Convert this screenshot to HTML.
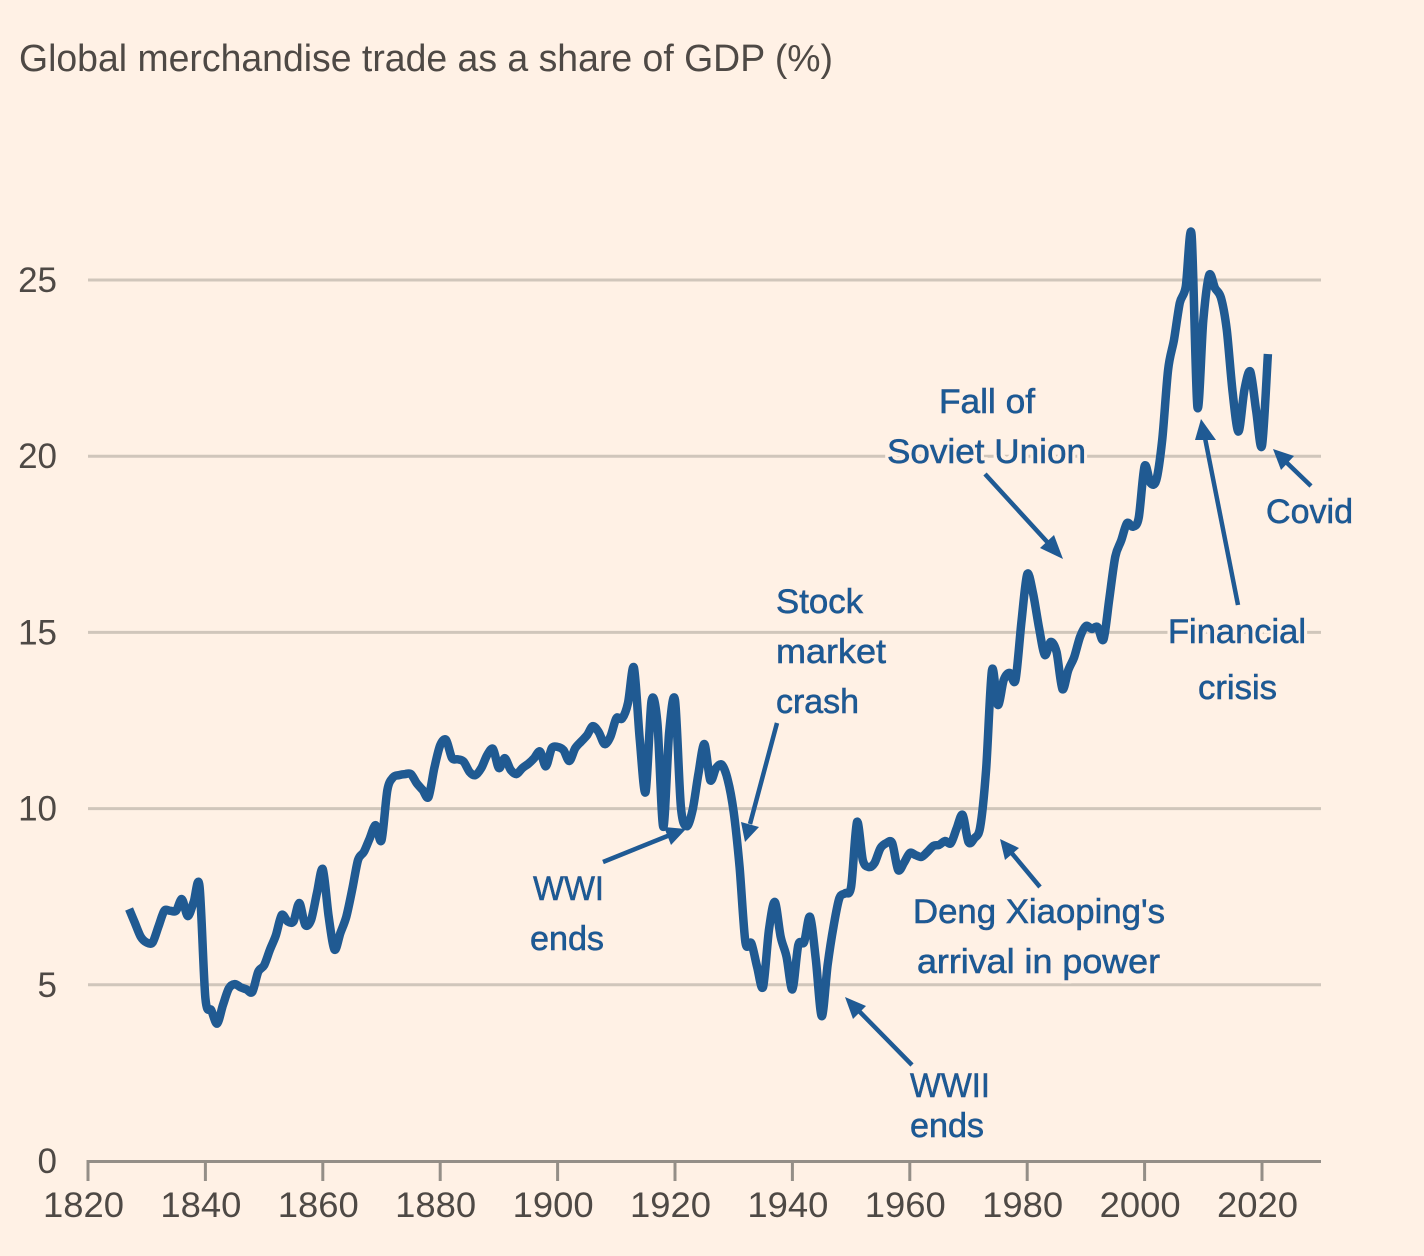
<!DOCTYPE html>
<html lang="en">
<head>
<meta charset="utf-8">
<title>Global merchandise trade as a share of GDP</title>
<style>
  html, body { margin: 0; padding: 0; background: #fff1e5; }
  svg { display: block; }
  text { font-family: "Liberation Sans", sans-serif; }
  .note { font-size: 34px; fill: #1f5a94; stroke: #1f5a94; stroke-width: 0.7px; filter: url(#halo); }
  .tick-label { font-size: 35px; fill: #4e4945; }
  .arrow-line { stroke: #1f5a94; stroke-width: 4.5; fill: none; }
  .arrow-head { fill: #1f5a94; }
</style>
</head>
<body>
<svg id="chart" xmlns="http://www.w3.org/2000/svg" width="1424" height="1256" viewBox="0 0 1424 1256">
  <defs>
    <filter id="halo" x="-10%" y="-30%" width="120%" height="160%">
      <feMorphology in="SourceAlpha" operator="dilate" radius="3" result="grown"/>
      <feFlood flood-color="#fff1e5" result="paper"/>
      <feComposite in="paper" in2="grown" operator="in" result="ring"/>
      <feMerge>
        <feMergeNode in="ring"/>
        <feMergeNode in="SourceGraphic"/>
      </feMerge>
    </filter>
  </defs>
  <rect width="1424" height="1256" fill="#fff1e5"/>
  <text x="19" y="71" font-size="38" fill="#4e4945" textLength="814" lengthAdjust="spacingAndGlyphs">Global merchandise trade as a share of GDP (%)</text>
  <g id="grid"></g>
  <g id="xaxis"></g>
  <g id="yaxis"></g>
  <path id="series" fill="none" stroke="#205a92" stroke-width="8.5" stroke-linejoin="round" stroke-linecap="butt"></path>

  <g>
    <g>
      <text class="note" x="939" y="413" textLength="96" lengthAdjust="spacingAndGlyphs">Fall of</text>
      <text class="note" x="887" y="463" textLength="199" lengthAdjust="spacingAndGlyphs">Soviet Union</text>
      <line class="arrow-line" x1="985" y1="474" x2="1050" y2="545"/>
      <polygon class="arrow-head" points="1063,559 1040,548 1054,535"/>
    </g>
    <g>
      <text class="note" x="776" y="613" textLength="87" lengthAdjust="spacingAndGlyphs">Stock</text>
      <text class="note" x="776" y="663" textLength="110" lengthAdjust="spacingAndGlyphs">market</text>
      <text class="note" x="776" y="713" textLength="83" lengthAdjust="spacingAndGlyphs">crash</text>
      <line class="arrow-line" x1="777" y1="723" x2="750" y2="824"/>
      <polygon class="arrow-head" points="745,842 741,822 759,827"/>
    </g>
    <g>
      <text class="note" x="533" y="900" textLength="71" lengthAdjust="spacingAndGlyphs">WWI</text>
      <text class="note" x="530" y="950" textLength="74" lengthAdjust="spacingAndGlyphs">ends</text>
      <line class="arrow-line" x1="603" y1="862" x2="670" y2="835"/>
      <polygon class="arrow-head" points="686,829 671,845 664,827"/>
    </g>
    <g>
      <text class="note" x="913" y="923" textLength="252" lengthAdjust="spacingAndGlyphs">Deng Xiaoping's</text>
      <text class="note" x="917" y="973" textLength="243" lengthAdjust="spacingAndGlyphs">arrival in power</text>
      <line class="arrow-line" x1="1040" y1="887" x2="1010" y2="851"/>
      <polygon class="arrow-head" points="1000,839 1019,848 1005,860"/>
    </g>
    <g>
      <text class="note" x="910" y="1097" textLength="80" lengthAdjust="spacingAndGlyphs">WWII</text>
      <text class="note" x="910" y="1137" textLength="74" lengthAdjust="spacingAndGlyphs">ends</text>
      <line class="arrow-line" x1="912" y1="1065" x2="857" y2="1009"/>
      <polygon class="arrow-head" points="845,997 866,1006 853,1019"/>
    </g>
    <g>
      <text class="note" x="1168" y="643" textLength="138" lengthAdjust="spacingAndGlyphs">Financial</text>
      <text class="note" x="1198" y="699" textLength="79" lengthAdjust="spacingAndGlyphs">crisis</text>
      <line class="arrow-line" x1="1238" y1="605" x2="1205" y2="438"/>
      <polygon class="arrow-head" points="1201,419 1216,440 1195,440"/>
    </g>
    <g>
      <text class="note" x="1266" y="523" textLength="87" lengthAdjust="spacingAndGlyphs">Covid</text>
      <line class="arrow-line" x1="1311" y1="486" x2="1285" y2="461"/>
      <polygon class="arrow-head" points="1273,449 1294,456 1281,470"/>
    </g>
  </g>
</svg>
<script>
const firstYear = 1827;
const tradeShare = [
  7.15, 6.75, 6.36, 6.2, 6.2, 6.65, 7.1, 7.1, 7.1, 7.43,
  6.95, 7.35, 7.8, 4.62, 4.28, 3.9, 4.43, 4.9, 5.02, 4.93,
  4.87, 4.8, 5.37, 5.55, 6.0, 6.4, 6.98, 6.8, 6.8, 7.32,
  6.7, 6.84, 7.6, 8.28, 6.93, 6.0, 6.47, 6.93, 7.69, 8.54,
  8.77, 9.16, 9.53, 9.1, 10.53, 10.89, 10.95, 10.98, 10.98, 10.72,
  10.53, 10.33, 11.15, 11.8, 11.95, 11.44, 11.4, 11.33, 11.04, 10.95,
  11.15, 11.52, 11.69, 11.15, 11.43, 11.1, 10.98, 11.15, 11.27, 11.43,
  11.62, 11.2, 11.71, 11.75, 11.66, 11.35, 11.71, 11.9, 12.08, 12.34,
  12.17, 11.83, 12.04, 12.56, 12.56, 13.0, 14.0, 11.95, 10.47, 13.05,
  12.43, 9.48, 12.15, 13.08, 10.05, 9.5, 9.96, 11.0, 11.83, 10.81,
  11.15, 11.24, 10.81, 9.9, 8.34, 6.21, 6.18, 5.5, 4.94, 6.55,
  7.35, 6.36, 5.8, 4.87, 6.13, 6.21, 6.93, 5.7, 4.11, 5.56,
  6.65, 7.46, 7.6, 7.78, 9.62, 8.54, 8.34, 8.46, 8.88, 9.02,
  9.02, 8.26, 8.46, 8.74, 8.68, 8.63, 8.77, 8.94, 8.97, 9.08,
  9.02, 9.45, 9.82, 9.05, 9.16, 9.48, 11.1, 13.93, 12.94, 13.65,
  13.85, 13.65, 15.26, 16.65, 16.1, 15.15, 14.36, 14.73, 14.44, 13.39,
  13.93, 14.3, 14.87, 15.18, 15.1, 15.15, 14.8, 15.97, 17.15, 17.6,
  18.1, 18.0, 18.25, 19.72, 19.24, 19.32, 20.46, 22.45, 23.3, 24.35,
  24.8, 26.28, 21.4, 23.86, 25.14, 24.77, 24.5, 23.58, 21.8, 20.7,
  21.88, 22.4, 21.3, 20.3, 22.9
];
const yTicks = [0, 5, 10, 15, 20, 25];
const xTicks = [1820, 1840, 1860, 1880, 1900, 1920, 1940, 1960, 1980, 2000, 2020];

const NS = 'http://www.w3.org/2000/svg';
const xScale = function (year) { return 88 + (year - 1820) * 5.87; };
const yScale = function (value) { return 1161 - value * 35.24; };

function make(tag, parent) {
  const el = document.createElementNS(NS, tag);
  parent.appendChild(el);
  return el;
}

const grid = document.getElementById('grid');
const xaxis = document.getElementById('xaxis');
const yaxis = document.getElementById('yaxis');

yTicks.forEach(function (v) {
  if (v !== 0) {
    const line = make('line', grid);
    
    
    line.setAttribute('x1', 88);
    line.setAttribute('x2', 1321);
    line.setAttribute('y1', yScale(v));
    line.setAttribute('y2', yScale(v));
    line.setAttribute('stroke', '#d0c6bb');
    line.setAttribute('stroke-width', 3);
  }
  const label = make('text', yaxis);
  
  
  label.setAttribute('class', 'tick-label');
  label.setAttribute('x', 57);
  label.setAttribute('y', yScale(v) + 12);
  label.setAttribute('text-anchor', 'end');
  label.textContent = v;
});

const baseline = make('line', xaxis);


baseline.setAttribute('x1', 86.5);
baseline.setAttribute('x2', 1321);
baseline.setAttribute('y1', 1161.5);
baseline.setAttribute('y2', 1161.5);
baseline.setAttribute('stroke', '#948e87');
baseline.setAttribute('stroke-width', 3);

xTicks.forEach(function (year) {
  const tick = make('line', xaxis);
  
  
  tick.setAttribute('x1', xScale(year));
  tick.setAttribute('x2', xScale(year));
  tick.setAttribute('y1', 1161);
  tick.setAttribute('y2', 1181);
  tick.setAttribute('stroke', '#948e87');
  tick.setAttribute('stroke-width', 3);
  const label = make('text', xaxis);
  
  
  label.setAttribute('class', 'tick-label');
  label.setAttribute('x', xScale(year) - 45);
  label.setAttribute('y', 1217);
  label.setAttribute('textLength', 81);
  label.setAttribute('lengthAdjust', 'spacingAndGlyphs');
  label.textContent = year;
});

const pts = tradeShare.map(function (v, i) {
  return [xScale(firstYear + i), yScale(v)];
});
let d = 'M' + pts[0][0].toFixed(1) + ' ' + pts[0][1].toFixed(1);
for (let i = 0; i < pts.length - 1; i++) {
  const p0 = pts[Math.max(i - 1, 0)];
  const p1 = pts[i];
  const p2 = pts[i + 1];
  const p3 = pts[Math.min(i + 2, pts.length - 1)];
  const t = 0.15;
  d += ' C' + (p1[0] + (p2[0] - p0[0]) * t).toFixed(1) + ' ' + (p1[1] + (p2[1] - p0[1]) * t).toFixed(1) +
       ' ' + (p2[0] - (p3[0] - p1[0]) * t).toFixed(1) + ' ' + (p2[1] - (p3[1] - p1[1]) * t).toFixed(1) +
       ' ' + p2[0].toFixed(1) + ' ' + p2[1].toFixed(1);
}
document.getElementById('series').setAttribute('d', d);
</script>
</body>
</html>
